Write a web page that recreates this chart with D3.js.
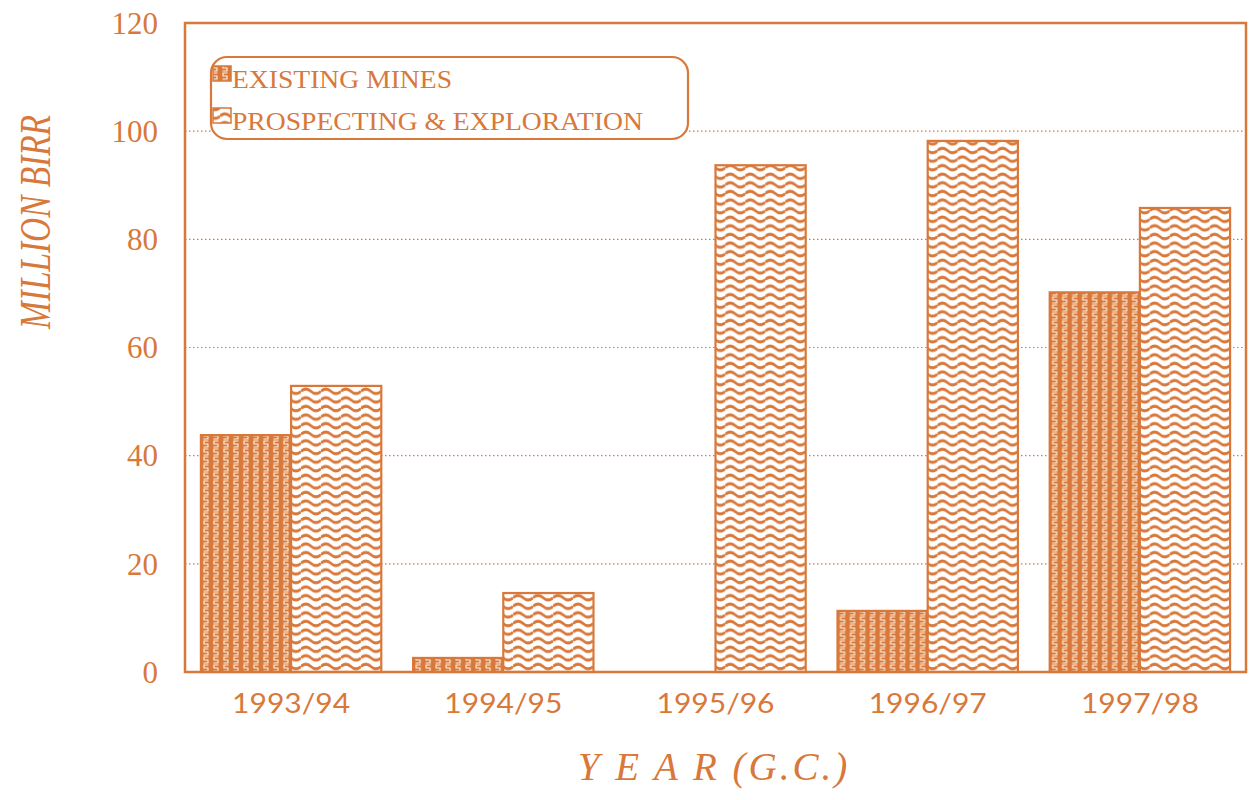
<!DOCTYPE html>
<html><head><meta charset="utf-8">
<script src="https://cdn.jsdelivr.net/npm/d3@7"></script>
<style>body{margin:0;background:#fff}</style>
</head><body>
<svg id="c" width="1255" height="800"></svg>
<script>
const years = ["1993/94","1994/95","1995/96","1996/97","1997/98"];
const seriesNames = ["EXISTING MINES","PROSPECTING & EXPLORATION"];
const existingMines = [43.8, 2.6, 0, 11.3, 70.2];
const prospecting = [52.9, 14.6, 93.7, 98.2, 85.8];
const yTicks = [0,20,40,60,80,100,120];

const C = "#d8783a";
const svg = d3.select("#c");
const L=185, R=1246, T=23, B=672;

const defs = svg.append("defs");
const p1 = defs.append("pattern").attr("id","pm").attr("patternUnits","userSpaceOnUse")
  .attr("width",10).attr("height",8);
p1.append("rect").attr("width",10).attr("height",8).attr("fill",C);
p1.append("path").attr("d","M7.5,1 H3 V4 H7 V7 H2.5").attr("fill","none").attr("stroke","#fff3e4").attr("stroke-width",1.15);
const p2 = defs.append("pattern").attr("id","pw").attr("patternUnits","userSpaceOnUse")
  .attr("width",20).attr("height",8.6);
p2.append("rect").attr("width",20).attr("height",8.6).attr("fill","#fff");
p2.append("path").attr("d","M0,4.3 Q5,-0.3 10,4.3 T20,4.3").attr("fill","none").attr("stroke",C).attr("stroke-width",2.8);

const x0 = d3.scaleBand().domain(years).range([L,R]).paddingInner(0.15).paddingOuter(0.075);
const x1 = d3.scaleBand().domain(seriesNames).range([0,x0.bandwidth()]);
const y = d3.scaleLinear().domain([0,120]).range([B,T]);

// grid
svg.append("g").selectAll("line").data(yTicks.filter(t=>t>0&&t<120)).join("line")
  .attr("x1",L).attr("x2",R).attr("y1",d=>y(d)).attr("y2",d=>y(d))
  .attr("stroke",C).attr("stroke-width",1.2).attr("stroke-dasharray","1.5,2.5");

const data = years.map((yr,i)=>({yr, vals:[existingMines[i], prospecting[i]]}));
const fills = ["url(#pm)","url(#pw)"];
const g = svg.append("g").selectAll("g").data(data).join("g")
  .attr("transform",d=>`translate(${x0(d.yr)},0)`);
g.selectAll("rect").data(d=>d.vals.map((v,j)=>({v,j}))).join("rect")
  .filter(d=>d.v>0)
  .attr("x",d=>x1(seriesNames[d.j])).attr("width",x1.bandwidth())
  .attr("y",d=>y(d.v)).attr("height",d=>B-y(d.v))
  .attr("fill",d=>fills[d.j]).attr("stroke",C).attr("stroke-width",2.2);

// frame
svg.append("rect").attr("x",L).attr("y",T).attr("width",R-L).attr("height",B-T)
  .attr("fill","none").attr("stroke",C).attr("stroke-width",2.5);

// y axis labels
const yAxis = d3.axisLeft(y).tickValues(yTicks).tickSize(0).tickPadding(27);
const ya = svg.append("g").attr("transform",`translate(${L},0)`).call(yAxis);
ya.select(".domain").remove();
ya.selectAll("text").attr("fill",C).attr("font-family","Liberation Serif, serif").attr("font-size",31).attr("dy","0.33em");

// x axis labels
const xAxis = d3.axisBottom(x0).tickSize(0).tickPadding(30);
const xa = svg.append("g").attr("transform",`translate(0,${B})`).call(xAxis);
xa.select(".domain").remove();
xa.selectAll("text").attr("fill",C).attr("font-family","Lato, sans-serif").attr("font-size",26)
  .attr("dy","0.42em").attr("textLength",118).attr("lengthAdjust","spacingAndGlyphs");

// axis titles
svg.append("text").attr("transform","translate(50,222) rotate(-90)").attr("text-anchor","middle")
  .attr("fill",C).attr("font-family","Liberation Serif, serif").attr("font-style","italic")
  .attr("font-size",44).attr("textLength",214).attr("lengthAdjust","spacingAndGlyphs").text("MILLION BIRR");
svg.append("text").attr("x",714).attr("y",780).attr("text-anchor","middle")
  .attr("fill",C).attr("font-family","Liberation Serif, serif").attr("font-style","italic")
  .attr("font-size",39).attr("letter-spacing","3").text("Y E A R (G.C.)");

// legend
const lg = svg.append("g");
lg.append("rect").attr("x",211).attr("y",57).attr("width",477).attr("height",82).attr("rx",16)
  .attr("fill","#fff").attr("stroke",C).attr("stroke-width",2.2);
const legendLen = [220, 411];
seriesNames.forEach((n,i)=>{
  const yy = 66 + i*42;
  lg.append("rect").attr("x",213).attr("y",yy).attr("width",18).attr("height",15)
    .attr("fill",fills[i]).attr("stroke",C).attr("stroke-width",1.5);
  lg.append("text").attr("x",232).attr("y",yy+22).attr("fill",C)
    .attr("font-family","Liberation Serif, serif").attr("font-size",25)
    .attr("textLength",legendLen[i]).attr("lengthAdjust","spacingAndGlyphs").text(n);
});
</script>
</body></html>
